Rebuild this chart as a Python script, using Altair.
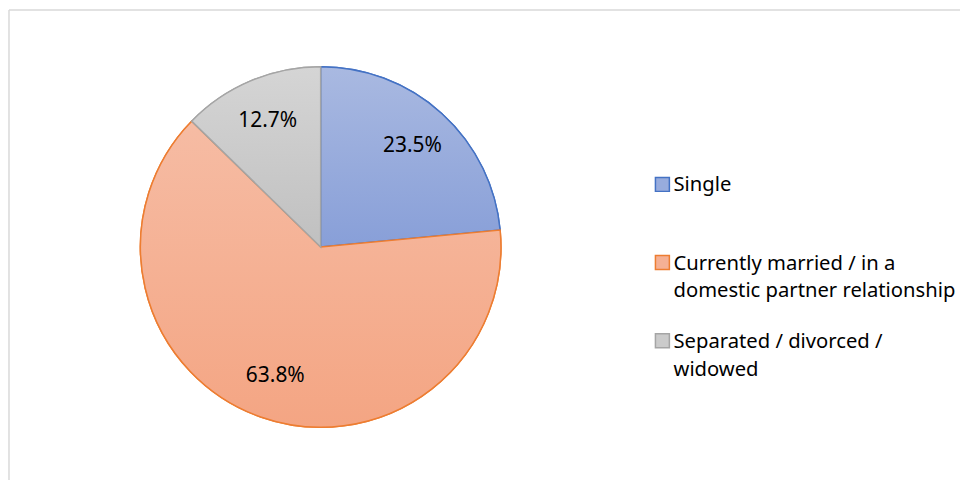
import altair as alt
import pandas as pd
import json

categories = ["Single", "Currently married / in a domestic partner relationship", "Separated / divorced / widowed"]
label_lines = [["Single", ""], ["Currently married / in a", "domestic partner relationship"], ["Separated / divorced /", "widowed"]]
values = [23.5, 63.8, 12.7]
order = [1, 2, 3]
fill_colors = ["#98acdd", "#f5b094", "#cbcbcb"]
grad_top = ["#a9b9e1", "#f6bca4", "#d5d5d5"]
grad_bottom = ["#889fd8", "#f4a583", "#c0c0c0"]
stroke_colors = ["#4472c4", "#ed7d31", "#a5a5a5"]

df = pd.DataFrame({"category": categories, "value": values, "order": order})

W, H = 930, 472
CX, CY, R, RL = 313, 238, 181, 137

base = alt.Chart(df).transform_joinaggregate(
    total="sum(value)"
).transform_window(
    cum="sum(value)", sort=[alt.SortField("order")], frame=[None, 0]
).transform_calculate(
    t0="(datum.cum - datum.value) / datum.total * 2 * PI",
    t1="datum.cum / datum.total * 2 * PI",
    tm="(datum.cum - datum.value / 2) / datum.total * 2 * PI",
    pct="format(datum.value, '.1f') + '%'",
)

label_expr = " : ".join(
    f"datum.label == {json.dumps(c)} ? {json.dumps(l)}" for c, l in zip(categories, label_lines)
) + " : datum.label"

legend = alt.Legend(
    title=None, orient="none", legendX=646, legendY=165,
    symbolType="square", symbolSize=196, symbolStrokeWidth=1.5,
    labelFont="Noto Sans", labelFontSize=20.3, labelColor="#000000",
    labelOffset=1, rowPadding=28.5, labelLimit=400, labelExpr=label_expr,
    labelBaseline="top",
)

solid = base.mark_arc(radius=R, strokeWidth=1.5).encode(
    x=alt.value(CX), y=alt.value(CY),
    theta=alt.Theta("t0:Q", scale=None), theta2="t1:Q",
    fill=alt.Fill("category:N", scale=alt.Scale(domain=categories, range=fill_colors), legend=legend),
    stroke=alt.Stroke("category:N", scale=alt.Scale(domain=categories, range=stroke_colors), legend=legend),
)

layers = [solid]
for c, gt, gb, sc in zip(categories, grad_top, grad_bottom, stroke_colors):
    layers.append(
        base.transform_filter(alt.datum.category == c).mark_arc(
            radius=R, stroke=sc, strokeWidth=1.5,
            fill=alt.Gradient(gradient="linear", x1=0, y1=0, x2=0, y2=1,
                              stops=[alt.GradientStop(color=gt, offset=0), alt.GradientStop(color=gb, offset=1)]),
        ).encode(
            x=alt.value(CX), y=alt.value(CY),
            theta=alt.Theta("t0:Q", scale=None), theta2="t1:Q",
        )
    )

text = base.mark_text(radius=RL, font="Noto Sans", fontSize=21, color="#000000").encode(
    x=alt.value(CX), y=alt.value(CY),
    theta=alt.Theta("tm:Q", scale=None), text="pct:N",
)
layers.append(text)

frame_df = pd.DataFrame({"a": [0]})
frame_left = alt.Chart(frame_df).mark_rule(color="#d9d9d9", strokeWidth=1.5).encode(
    x=alt.value(0), y=alt.value(0), y2=alt.value(H)
)
frame_top = alt.Chart(frame_df).mark_rule(color="#d9d9d9", strokeWidth=1.5).encode(
    x=alt.value(0), x2=alt.value(955), y=alt.value(0)
)
layers += [frame_left, frame_top]

chart = alt.layer(*layers).properties(
    width=W, height=H, padding=0
).configure(
    style={"guide-label": {"lineHeight": 28, "dy": -9}},
    view={"stroke": "transparent", "strokeWidth": 0},
)

chart.save("out.html", embed_options={"renderer": "svg", "actions": False})
